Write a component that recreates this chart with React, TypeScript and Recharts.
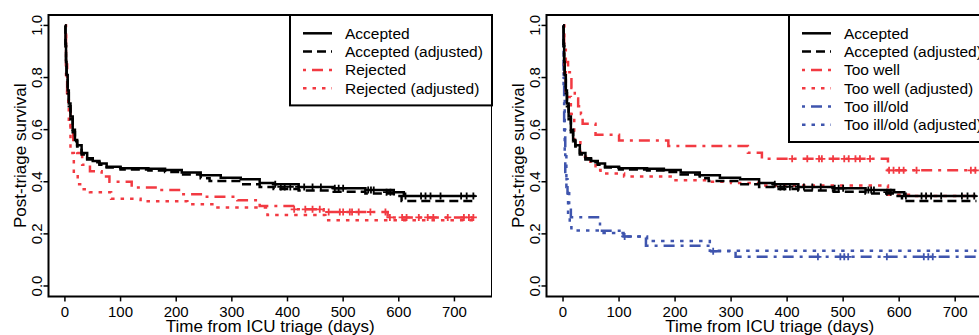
import React from "react";
import { ComposedChart, Line, Scatter, XAxis, YAxis, ReferenceArea } from "recharts";

const FONT = "'Liberation Sans', Arial, sans-serif";
const RED = "#f23a42";
const BLUE = "#3f55ae";

const timeTicks = [0, 100, 200, 300, 400, 500, 600, 700];
const survivalTicks = [0, 0.2, 0.4, 0.6, 0.8, 1];

// Kaplan-Meier steps as [days, survival]
const accepted: [number, number][] = [
  [0, 1.0], [1, 0.93], [2, 0.86], [3, 0.81], [5, 0.75], [7, 0.7], [10, 0.65], [14, 0.6],
  [18, 0.56], [22, 0.54], [30, 0.51], [40, 0.49], [50, 0.48], [62, 0.47], [75, 0.458],
  [100, 0.452], [150, 0.45], [180, 0.445], [210, 0.436], [244, 0.425], [280, 0.415],
  [316, 0.41], [350, 0.395], [375, 0.39], [420, 0.38], [483, 0.375], [540, 0.368],
  [591, 0.36], [609, 0.345], [738, 0.345],
];
const acceptedAdj: [number, number][] = [
  [0, 1.0], [1, 0.92], [2, 0.85], [3, 0.8], [5, 0.74], [7, 0.69], [10, 0.64], [14, 0.59],
  [18, 0.555], [22, 0.535], [30, 0.505], [40, 0.485], [50, 0.475], [62, 0.465], [75, 0.455],
  [100, 0.447], [150, 0.443], [180, 0.437], [210, 0.428], [244, 0.413], [260, 0.403],
  [316, 0.39], [350, 0.38], [375, 0.372], [420, 0.366], [483, 0.362], [540, 0.355],
  [591, 0.345], [605, 0.326], [738, 0.326],
];
const rejected: [number, number][] = [
  [0, 1.0], [2, 0.85], [4, 0.74], [6, 0.68], [10, 0.61], [15, 0.56], [22, 0.51], [31, 0.465],
  [45, 0.44], [66, 0.42], [80, 0.4], [120, 0.378], [170, 0.368], [210, 0.352], [255, 0.342],
  [310, 0.329], [350, 0.307], [410, 0.294], [465, 0.284], [580, 0.263], [738, 0.263],
];
const rejectedAdj: [number, number][] = [
  [0, 0.96], [2, 0.8], [4, 0.725], [7, 0.62], [10, 0.51], [16, 0.43], [23, 0.39], [30, 0.371],
  [45, 0.36], [83, 0.335], [136, 0.325], [220, 0.314], [268, 0.301], [364, 0.272],
  [468, 0.252], [738, 0.252],
];
const tooWell: [number, number][] = [
  [0, 1.0], [2, 0.93], [5, 0.86], [9, 0.82], [15, 0.76], [21, 0.72], [27, 0.69], [32, 0.66],
  [35, 0.623], [58, 0.58], [100, 0.558], [188, 0.537], [330, 0.511], [355, 0.488],
  [580, 0.444], [738, 0.444],
];
const tooWellAdj: [number, number][] = [
  [0, 1.0], [2, 0.82], [5, 0.725], [14, 0.66], [20, 0.56], [31, 0.496], [49, 0.477],
  [58, 0.445], [67, 0.432], [109, 0.42], [198, 0.406], [260, 0.4], [300, 0.395],
  [355, 0.386], [580, 0.35], [620, 0.345], [738, 0.345],
];
const tooIll: [number, number][] = [
  [0, 1.0], [1, 0.8], [2, 0.6], [4, 0.41], [8, 0.356], [11, 0.305], [14, 0.264], [66, 0.212],
  [108, 0.19], [148, 0.154], [262, 0.133], [308, 0.112], [738, 0.112],
];
const tooIllAdj: [number, number][] = [
  [0, 1.0], [1, 0.75], [3, 0.51], [6, 0.38], [9, 0.27], [12, 0.225], [15, 0.213],
  [70, 0.203], [108, 0.19], [150, 0.173], [262, 0.135], [738, 0.135],
];

// censoring marks as [days, survival]
const acceptedCensored: [number, number][] = [
  [378, 0.39], [388, 0.38], [395, 0.38], [405, 0.38], [420, 0.38], [430, 0.38], [445, 0.38],
  [460, 0.38], [485, 0.375], [492, 0.375], [500, 0.375], [545, 0.368], [550, 0.368],
  [555, 0.368], [578, 0.36], [585, 0.36], [612, 0.345], [640, 0.345], [648, 0.345],
  [657, 0.345], [675, 0.345], [712, 0.345], [722, 0.345], [734, 0.345],
];
const rejectedCensored: [number, number][] = [
  [412, 0.294], [432, 0.294], [445, 0.294], [458, 0.294], [474, 0.284], [494, 0.284],
  [500, 0.284], [512, 0.284], [516, 0.284], [528, 0.284], [549, 0.284], [576, 0.284],
  [584, 0.263], [606, 0.263], [614, 0.263], [636, 0.263], [652, 0.263], [662, 0.263],
  [688, 0.263], [717, 0.263], [726, 0.263], [734, 0.263],
];
const tooWellCensored: [number, number][] = [
  [409, 0.488], [436, 0.488], [457, 0.488], [462, 0.488], [482, 0.488], [502, 0.488],
  [510, 0.488], [522, 0.488], [530, 0.488], [548, 0.488], [582, 0.444], [590, 0.444],
  [600, 0.444], [608, 0.444], [631, 0.444], [728, 0.444], [736, 0.444],
];
const tooIllCensored: [number, number][] = [
  [110, 0.19], [268, 0.133], [455, 0.112], [495, 0.112], [502, 0.112], [509, 0.112],
  [578, 0.112], [644, 0.112], [652, 0.112], [660, 0.112],
];

const DASH = {
  solid: undefined,
  dashed: "9 5",
  dotdash: "3 6 11 6",
  dotted: "3.5 6",
};

type Series = { name: string; data: [number, number][]; color: string; dash?: string };
type Marks = { data: [number, number][]; color: string };

const leftSeries: Series[] = [
  { name: "Rejected (adjusted)", data: rejectedAdj, color: RED, dash: DASH.dotted },
  { name: "Rejected", data: rejected, color: RED, dash: DASH.dotdash },
  { name: "Accepted (adjusted)", data: acceptedAdj, color: "#000", dash: DASH.dashed },
  { name: "Accepted", data: accepted, color: "#000", dash: DASH.solid },
];
const rightSeries: Series[] = [
  { name: "Too ill/old (adjusted)", data: tooIllAdj, color: BLUE, dash: DASH.dotted },
  { name: "Too ill/old", data: tooIll, color: BLUE, dash: DASH.dotdash },
  { name: "Too well (adjusted)", data: tooWellAdj, color: RED, dash: DASH.dotted },
  { name: "Too well", data: tooWell, color: RED, dash: DASH.dotdash },
  { name: "Accepted (adjusted)", data: acceptedAdj, color: "#000", dash: DASH.dashed },
  { name: "Accepted", data: accepted, color: "#000", dash: DASH.solid },
];
const leftMarks: Marks[] = [
  { data: rejectedCensored, color: RED },
  { data: acceptedCensored, color: "#000" },
];
const rightMarks: Marks[] = [
  { data: tooIllCensored, color: BLUE },
  { data: tooWellCensored, color: RED },
  { data: acceptedCensored, color: "#000" },
];

const X_DOMAIN: [number, number] = [-29.5, 767.5];
const Y_DOMAIN: [number, number] = [-0.04, 1.04];

const toPoints = (d: [number, number][]) => d.map(([t, s]) => ({ t, s }));

const plus = (color: string) => (props: any) => {
  const { cx, cy } = props;
  return (
    <g stroke={color} strokeWidth={1.8}>
      <line x1={cx - 3.5} x2={cx + 3.5} y1={cy} y2={cy} />
      <line x1={cx} x2={cx} y1={cy - 3.5} y2={cy + 3.5} />
    </g>
  );
};

const YTick = (props: any) => {
  const { x, y, payload } = props;
  return (
    <text
      x={x}
      y={y}
      transform={`rotate(-90 ${x} ${y})`}
      textAnchor="middle"
      fontSize={15}
      fontFamily={FONT}
      fill="#000"
    >
      {Number(payload.value).toFixed(1)}
    </text>
  );
};

const PLOT_TOP = 15;
const PLOT_BOTTOM = 296.4;
const H = 335;
const AXIS_W = 48.5;

function Panel({ left, width, series, marks }: { left: number; width: number; series: Series[]; marks: Marks[] }) {
  const plotLeft = AXIS_W;
  const plotRight = width;
  const midX = (plotLeft + plotRight) / 2;
  const midY = (PLOT_TOP + PLOT_BOTTOM) / 2;
  const titleX = plotLeft - 22.5;
  return (
    <div style={{ position: "absolute", left, top: 0 }}>
      <ComposedChart width={width} height={H} margin={{ top: PLOT_TOP, right: 0, bottom: 0, left: 0 }}>
        <XAxis
          dataKey="t"
          type="number"
          domain={X_DOMAIN}
          ticks={timeTicks}
          allowDataOverflow
          height={H - PLOT_BOTTOM}
          axisLine={false}
          tickSize={5}
          tickMargin={4.5}
          tickLine={{ stroke: "#000", strokeWidth: 1.5 }}
          tick={{ fill: "#000", fontSize: 15, fontFamily: FONT }}
          label={{
            content: () => (
              <text x={midX} y={332} textAnchor="middle" fontSize={17} fontFamily={FONT} fill="#000">
                Time from ICU triage (days)
              </text>
            ),
          }}
        />
        <YAxis
          type="number"
          domain={Y_DOMAIN}
          ticks={survivalTicks}
          allowDataOverflow
          width={AXIS_W}
          axisLine={false}
          tickSize={5}
          tickMargin={1}
          tickLine={{ stroke: "#000", strokeWidth: 1.5 }}
          tick={<YTick />}
          label={{
            content: () => (
              <text
                x={titleX}
                y={midY}
                transform={`rotate(-90 ${titleX} ${midY})`}
                textAnchor="middle"
                fontSize={17}
                fontFamily={FONT}
                fill="#000"
              >
                Post-triage survival
              </text>
            ),
          }}
        />
        <ReferenceArea
          x1={X_DOMAIN[0]}
          x2={X_DOMAIN[1]}
          y1={Y_DOMAIN[0]}
          y2={Y_DOMAIN[1]}
          fill="none"
          stroke="#000"
          strokeWidth={2}
          ifOverflow="visible"
        />
        {series.map((s) => (
          <Line
            key={s.name}
            data={toPoints(s.data)}
            dataKey="s"
            type="stepAfter"
            stroke={s.color}
            strokeWidth={2.5}
            strokeDasharray={s.dash}
            dot={false}
            activeDot={false}
            isAnimationActive={false}
          />
        ))}
        {marks.map((m, i) => (
          <Scatter
            key={i}
            data={toPoints(m.data)}
            dataKey="s"
            shape={plus(m.color)}
            isAnimationActive={false}
          />
        ))}
      </ComposedChart>
    </div>
  );
}

function LegendBox({ x, right, items }: { x: number; right: number; items: Series[] }) {
  const rowH = 18.3;
  const h = 20 + rowH * (items.length - 1) + 15.5;
  return (
    <svg style={{ position: "absolute", left: 0, top: 0, overflow: "visible" }} width={1} height={1}>
      <rect x={x} y={PLOT_TOP} width={right - x} height={h} fill="#fff" stroke="#000" strokeWidth={2} />
      {items.map((it, i) => {
        const cy = 33.3 + i * rowH;
        return (
          <g key={it.name}>
            <line x1={x + 13} x2={x + 42} y1={cy} y2={cy} stroke={it.color} strokeWidth={2.5} strokeDasharray={it.dash} />
            <text x={x + 55} y={cy + 5.5} fontSize={15.5} fontFamily={FONT} fill="#000">
              {it.name}
            </text>
          </g>
        );
      })}
    </svg>
  );
}

export default function App() {
  const leftW = 492;
  const rightLeft = 498;
  const rightW = 495;
  return (
    <div style={{ position: "absolute", left: 0, top: 0, width: 979, height: 335, overflow: "hidden", background: "#fff" }}>
      <Panel left={0} width={leftW} series={leftSeries} marks={leftMarks} />
      <Panel left={rightLeft} width={rightW} series={rightSeries} marks={rightMarks} />
      <LegendBox x={290} right={leftW} items={[...leftSeries].reverse()} />
      <LegendBox x={789} right={rightLeft + rightW} items={[...rightSeries].reverse()} />
    </div>
  );
}
